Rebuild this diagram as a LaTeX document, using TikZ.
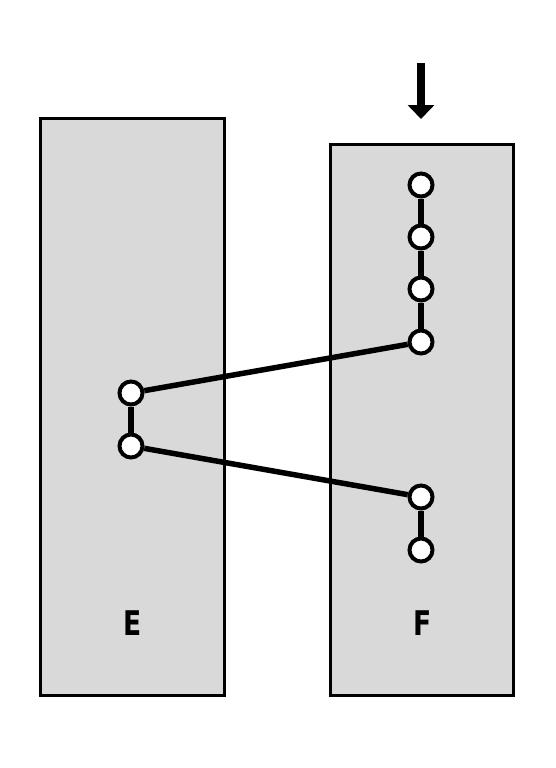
\documentclass[tikz,border=0pt]{standalone}
\usepackage{fontspec}
\setmainfont{DejaVu Sans}
\usetikzlibrary{arrows.meta}
\definecolor{boxgray}{RGB}{217,217,217}
\begin{document}
\begin{tikzpicture}[x=1pt,y=-1pt,
  panel/.style={draw=black,line width=3pt,fill=boxgray},
  dot/.style={circle,draw=black,line width=4pt,fill=white,minimum size=23pt,inner sep=0pt},
  link/.style={line width=5.5pt},
  lbl/.style={font=\fontsize{34}{34}\selectfont\bfseries,xscale=0.78,transform shape,inner sep=0pt}]
\useasboundingbox (0,0) rectangle (555,768);
\path[panel] (40,118) rectangle (224,695);
\path[panel] (330,144) rectangle (513,695);
\node[lbl] (E) at (133,623) {E};
\node[lbl] (F) at (423,623) {F};
\node[dot] (f1) at (421,185) {};
\node[dot] (f2) at (421,237) {};
\node[dot] (f3) at (421,289) {};
\node[dot] (f4) at (421,342) {};
\node[dot] (f5) at (421,497) {};
\node[dot] (f6) at (421,550) {};
\node[dot] (e1) at (131,393) {};
\node[dot] (e2) at (131,446) {};
\draw[link] (f1) -- (f2);
\draw[link] (f2) -- (f3);
\draw[link] (f3) -- (f4);
\draw[link] (f5) -- (f6);
\draw[link] (e1) -- (e2);
\draw[link] (e1) -- (f4);
\draw[link] (e2) -- (f5);
\coordinate (atop) at (421,63);
\coordinate (atip) at (421,119);
\draw[line width=8pt,-{Triangle[width=26pt,length=14pt]}] (atop) -- (atip);
\end{tikzpicture}
\end{document}
